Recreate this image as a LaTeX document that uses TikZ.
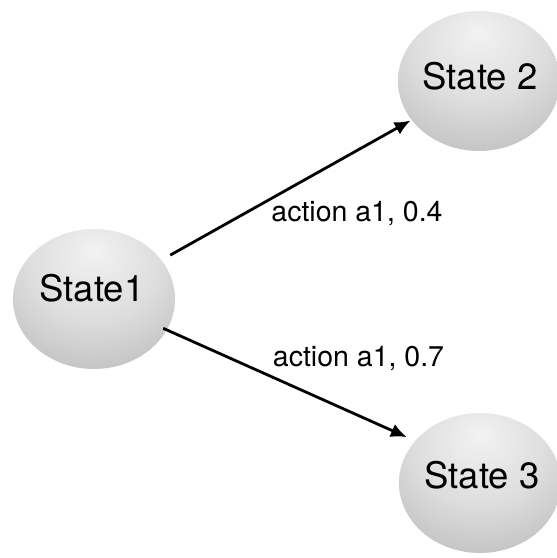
\documentclass[tikz,border=0pt]{standalone}
\usepackage{fontspec}
\setmainfont{TeX Gyre Heros}
\usetikzlibrary{shapes.geometric,arrows.meta}
\pgfdeclareradialshading{orb}{\pgfpoint{0bp}{18bp}}{color(0bp)=(white!95!black); color(20bp)=(white!87!black); color(42bp)=(white!72!black); color(58bp)=(white!57!black); color(70bp)=(white!45!black)}
\tikzset{
  statenode/.style={shape=ellipse, shade, shading=orb, minimum width=162pt, minimum height=140pt, inner sep=0pt},
  statetext/.style={anchor=base, inner sep=0pt, font=\fontsize{36.5}{40}\selectfont},
  actiontext/.style={anchor=base, inner sep=0pt, font=\fontsize{28.5}{32}\selectfont},
  arr/.style={line width=2.8pt, -{Latex[length=16pt,width=14pt]}}
}
\begin{document}
\begin{tikzpicture}[x=1pt,y=1pt]
\useasboundingbox (0,0) rectangle (557,558);
\node[statenode] (s1) at (94,259) {};
\node[statenode] (s2) at (479,477) {};
\node[statenode] (s3) at (480,75) {};
\node[statetext] (t1) at (92,256) {State1};
\node[statetext] (t2) at (480,468) {State 2};
\node[statetext] (t3) at (482,70) {State 3};
\draw[arr, shorten <=10pt, shorten >=1pt] (s1.30.4) -- (s2.210.7);
\draw[arr, shorten <=-4pt, shorten >=9pt] (s1.-23.5) -- (s3.147.2);
\node[actiontext] (l1) at (357,336) {action a1, 0.4};
\node[actiontext] (l2) at (358.5,191) {action a1, 0.7};
\end{tikzpicture}
\end{document}
